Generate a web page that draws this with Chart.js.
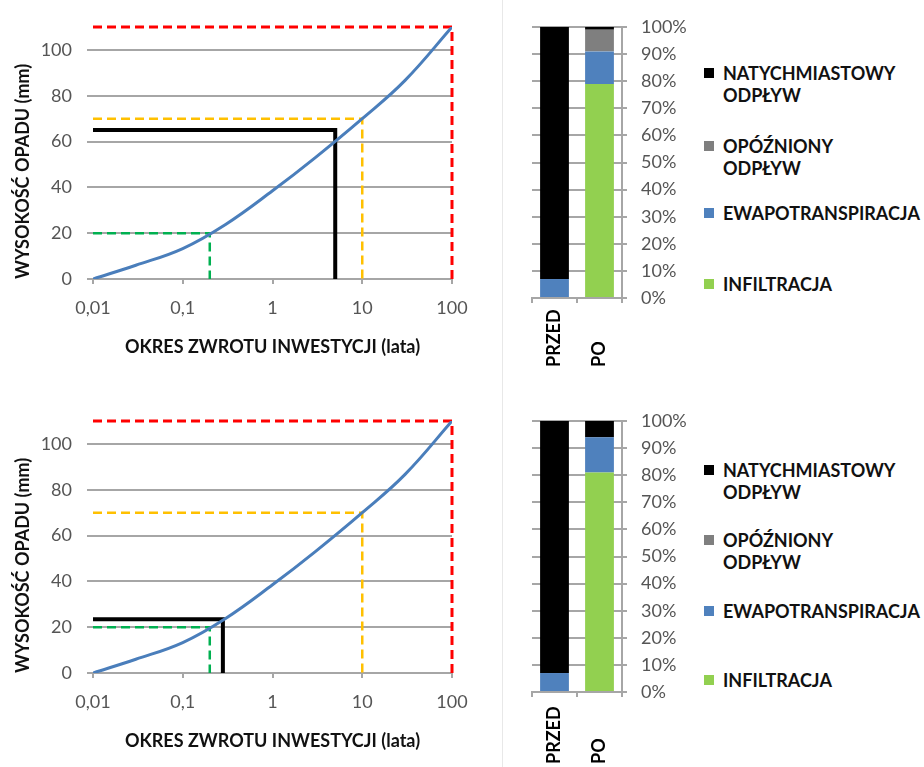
<!DOCTYPE html>
<html>
<head>
<meta charset="utf-8">
<script src="https://cdn.jsdelivr.net/npm/chart.js@4.4.1/dist/chart.umd.min.js"></script>
<style>
  body { margin: 0; width: 924px; height: 767px; overflow: hidden; background: #fff; position: relative; font-family: Lato, sans-serif; }
  canvas { position: absolute; }
  .sep { position: absolute; left: 502px; top: 0; width: 1px; height: 767px; background: #e8e8e8; }
  .legend { position: absolute; left: 704px; top: 0; font: bold 18px Lato, sans-serif; color: #111; }
  .legend .item { position: absolute; left: 0; white-space: nowrap; line-height: 22px; padding-left: 19px; }
  .legend .sw { position: absolute; left: 0; top: 6px; width: 10px; height: 10px; }
</style>
</head>
<body>
<div class="sep"></div>
<canvas id="curveTop" width="500" height="380" style="left:0;top:0"></canvas>
<canvas id="barTop" width="195" height="380" style="left:505px;top:0"></canvas>
<div class="legend" id="legendTop"></div>
<canvas id="curveBottom" width="500" height="380" style="left:0;top:394px"></canvas>
<canvas id="barBottom" width="195" height="380" style="left:505px;top:394px"></canvas>
<div class="legend" id="legendBottom" style="top:394px"></div>

<script>
// rainfall depth vs return period
const returnPeriods = [0.01, 0.03, 0.1, 0.3, 1, 3, 10, 30, 100];
const rainfall = [0, 6, 13.3, 23.8, 38.5, 53, 70, 86.7, 110];
const xTickValues = [0.01, 0.1, 1, 10, 100];
const xTickLabels = ['0,01', '0,1', '1', '10', '100'];

// reference lines [period, depth]
const redGuide = [[0.01, 110], [100, 110], [100, 0]];
const yellowGuide = [[0.01, 70], [10, 70], [10, 0]];
const greenGuide = [[0.01, 20], [0.2, 20], [0.2, 0]];
const blackGuideTop = [[0.01, 65], [5, 65], [5, 0]];
const blackGuideBottom = [[0.01, 23.5], [0.28, 23.5], [0.28, 0]];

// water balance (%)
const barCategories = ['PRZED', 'PO'];
const topImmediate = [93, 1];
const topDelayed = [0, 8];
const topEvapo = [7, 12];
const topInfiltration = [0, 79];
const bottomImmediate = [93, 6];
const bottomDelayed = [0, 0];
const bottomEvapo = [7, 13];
const bottomInfiltration = [0, 81];

const legendLabels = [['NATYCHMIASTOWY', 'ODPŁYW'], ['OPÓŹNIONY', 'ODPŁYW'], ['EWAPOTRANSPIRACJA'], ['INFILTRACJA']];
const legendColors = ['#000000', '#7f7f7f', '#4f81bd', '#92d050'];

Chart.defaults.font.family = 'Lato, sans-serif';
Chart.defaults.animation = false;

const gridColor = '#a6a6a6';
const tickColor = '#555555';

function toPoints(pairs) {
  return pairs.map(p => ({ x: p[0], y: p[1] }));
}

function guideSet(pairs, color, width, dash, order) {
  return {
    data: toPoints(pairs),
    showLine: true,
    borderColor: color,
    borderWidth: width,
    borderDash: dash,
    pointRadius: 0,
    clip: false,
    order: order
  };
}

function makeCurve(id, blackGuide) {
  const ctx = document.getElementById(id).getContext('2d');
  return new Chart(ctx, {
    type: 'scatter',
    data: {
      datasets: [
        {
          data: returnPeriods.map((x, i) => ({ x: x, y: rainfall[i] })),
          showLine: true,
          borderColor: '#4a7ebb',
          borderWidth: 3,
          pointRadius: 0,
          tension: 0.4,
          order: 1
        },
        guideSet(blackGuide, '#000000', 4, [], 2),
        guideSet(greenGuide, '#00b050', 2.5, [9, 5], 3),
        guideSet(yellowGuide, '#ffc000', 2.5, [9, 5], 4),
        guideSet(redGuide, '#ff0000', 3, [9, 5], 5)
      ]
    },
    options: {
      responsive: false,
      layout: { padding: { left: 0, top: 27, right: 48, bottom: 0 } },
      plugins: { legend: { display: false }, tooltip: { enabled: false } },
      scales: {
        x: {
          type: 'logarithmic',
          min: 0.01,
          max: 100,
          afterBuildTicks: s => { s.ticks = xTickValues.map(v => ({ value: v })); },
          afterFit: s => { s.height = 101; },
          ticks: {
            autoSkip: false,
            maxRotation: 0,
            color: tickColor,
            font: { size: 18 },
            padding: 13,
            callback: (v, i) => xTickLabels[i]
          },
          grid: { drawOnChartArea: false, tickLength: 5, color: gridColor, lineWidth: 2 },
          border: { display: false },
          title: {
            display: true,
            text: 'OKRES ZWROTU INWESTYCJI (lata)',
            color: '#111',
            font: { size: 18, weight: 'bold' },
            padding: { top: 0, bottom: 22 }
          }
        },
        y: {
          min: 0,
          max: 110,
          afterBuildTicks: s => { s.ticks = s.ticks.filter(t => t.value <= 100); },
          afterFit: s => { s.width = 93; },
          ticks: { stepSize: 20, color: tickColor, font: { size: 18 }, padding: 15 },
          grid: { color: gridColor, lineWidth: 2, tickLength: 6 },
          border: { display: false },
          title: {
            display: true,
            text: 'WYSOKOŚĆ OPADU (mm)',
            align: 'start',
            color: '#111',
            font: { size: 18, weight: 'bold' },
            padding: { top: 12, bottom: 0 }
          }
        }
      }
    }
  });
}

// rotated category names, aligned at their start like the original
const categoryLabels = {
  id: 'categoryLabels',
  afterDraw(chart, args, opts) {
    const { ctx } = chart;
    const xs = chart.scales.x;
    ctx.save();
    ctx.font = 'bold 18px Lato, sans-serif';
    ctx.fillStyle = '#000';
    ctx.textAlign = 'left';
    ctx.textBaseline = 'middle';
    chart.data.labels.forEach((label, i) => {
      ctx.save();
      ctx.translate(xs.getPixelForTick(i), opts.baseY);
      ctx.rotate(-Math.PI / 2);
      ctx.fillText(label, 0, 0);
      ctx.restore();
    });
    ctx.restore();
  }
};

function makeBars(id, infil, evapo, delayed, immediate, baseY) {
  const ctx = document.getElementById(id).getContext('2d');
  const common = { barPercentage: 0.64, categoryPercentage: 1 };
  return new Chart(ctx, {
    type: 'bar',
    data: {
      labels: barCategories,
      datasets: [
        { label: 'INFILTRACJA', data: infil, backgroundColor: legendColors[3], ...common },
        { label: 'EWAPOTRANSPIRACJA', data: evapo, backgroundColor: legendColors[2], ...common },
        { label: 'OPÓŹNIONY ODPŁYW', data: delayed, backgroundColor: legendColors[1], ...common },
        { label: 'NATYCHMIASTOWY ODPŁYW', data: immediate, backgroundColor: legendColors[0], ...common }
      ]
    },
    plugins: [categoryLabels],
    options: {
      responsive: false,
      layout: { padding: { left: 27, top: 27, right: 0, bottom: 76 } },
      plugins: {
        legend: { display: false },
        tooltip: { enabled: false },
        categoryLabels: { baseY: baseY }
      },
      scales: {
        x: {
          stacked: true,
          afterFit: s => { s.height = 6; },
          ticks: { display: false },
          grid: { drawOnChartArea: false, tickLength: 5, color: gridColor, lineWidth: 2 },
          border: { color: gridColor, width: 2 }
        },
        y: {
          stacked: true,
          position: 'right',
          min: 0,
          max: 100,
          afterFit: s => { s.width = 78; },
          ticks: { stepSize: 10, color: tickColor, font: { size: 18 }, padding: 14, callback: v => v + '%' },
          grid: { color: gridColor, lineWidth: 2, tickLength: 5 },
          border: { color: gridColor, width: 2 }
        }
      }
    }
  });
}

function makeLegend(id, tops) {
  const box = document.getElementById(id);
  legendLabels.forEach((lines, i) => {
    const item = document.createElement('div');
    item.className = 'item';
    item.style.top = tops[i] + 'px';
    const sw = document.createElement('span');
    sw.className = 'sw';
    sw.style.background = legendColors[i];
    item.appendChild(sw);
    lines.forEach((t, j) => {
      if (j) item.appendChild(document.createElement('br'));
      item.appendChild(document.createTextNode(t));
    });
    box.appendChild(item);
  });
}

makeCurve('curveTop', blackGuideTop);
makeCurve('curveBottom', blackGuideBottom);
makeBars('barTop', topInfiltration, topEvapo, topDelayed, topImmediate, 367);
makeBars('barBottom', bottomInfiltration, bottomEvapo, bottomDelayed, bottomImmediate, 370);
makeLegend('legendTop', [62, 135, 202, 273]);
makeLegend('legendBottom', [65, 135, 206, 275]);
</script>
</body>
</html>
